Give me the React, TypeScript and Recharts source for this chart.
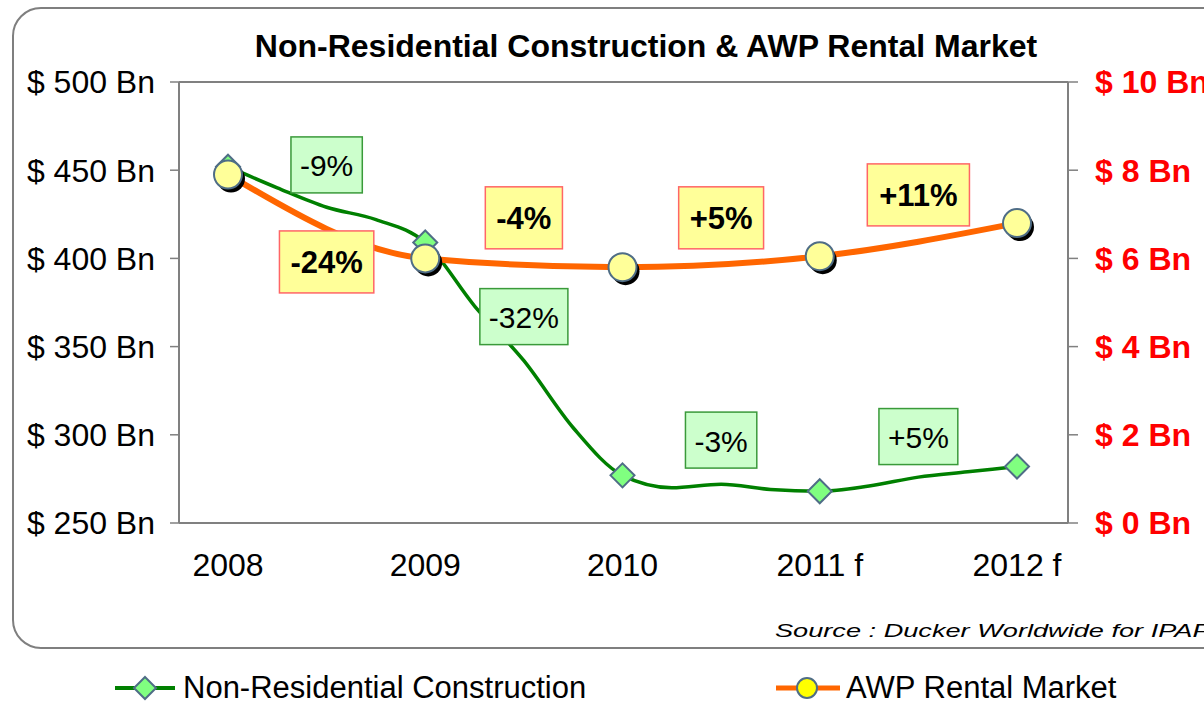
import React from 'react';
import {
  LineChart, Line, XAxis, YAxis, ReferenceDot, ReferenceLine, Legend,
} from 'recharts';

const YEARS = ['2008', '2009', '2010', '2011 f', '2012 f'];

// non-residential construction, read quarterly off the smoothed curve ($ Bn)
const NONRES_X = [0, 0.25, 0.5, 0.75, 1, 1.25, 1.5, 1.75, 2, 2.25, 2.5, 2.75, 3, 3.25, 3.5, 3.75, 4];
const NONRES = [452, 440, 429, 422, 409, 373, 342, 304, 277, 270, 272, 269, 268, 271, 276, 279, 282];

// AWP rental market ($ Bn, right axis)
const AWP = [7.9, 6.0, 5.8, 6.05, 6.8];

const LEFT_TICKS = [250, 300, 350, 400, 450, 500];
const RIGHT_TICKS = [0, 2, 4, 6, 8, 10];

// yearly change call-outs, placed between the years
const NONRES_CHANGES = ['-9%', '-32%', '-3%', '+5%'];
const NONRES_LABEL_Y = [453, 367, 297, 299];
const AWP_CHANGES = ['-24%', '-4%', '+5%', '+11%'];
const AWP_LABEL_Y = [5.92, 6.92, 6.92, 7.44];

const FONT = '"Liberation Sans", Arial, sans-serif';
const GREEN = '#008000';
const ORANGE = '#ff6600';
const MARKER_EDGE = '#4f6d86';

const nonresData = NONRES_X.map((x, i) => ({ x, value: NONRES[i] }));
const awpData = AWP.map((value, i) => ({ x: i, value }));

const CHAR_EM: Record<string, number> = { '%': 0.889, '+': 0.584, '-': 0.333 };
const textEm = (s: string) => s.split('').reduce((a, c) => a + (CHAR_EM[c] ?? 0.556), 0);

const ChangeBox = ({ cx, cy, label, kind }: any) => {
  const green = kind === 'green';
  const fs = green ? 30 : 31;
  const w = textEm(label) * fs + (green ? 18 : 22);
  const h = green ? 56 : 62;
  return (
    <g>
      <rect
        x={cx - w / 2} y={cy - h / 2} width={w} height={h}
        fill={green ? '#ccffcc' : '#ffff99'}
        stroke={green ? '#3a9a3a' : '#ff6666'}
        strokeWidth={1.5}
      />
      <text
        x={cx} y={cy + 1} textAnchor="middle" dominantBaseline="central"
        fontFamily={FONT} fontSize={fs} fontWeight={green ? 400 : 700} fill="#000"
      >
        {label}
      </text>
    </g>
  );
};

const Diamond = ({ cx, cy, r = 12 }: any) => (
  <polygon
    points={`${cx},${cy - r} ${cx + r},${cy} ${cx},${cy + r} ${cx - r},${cy}`}
    fill="#80ff80" stroke={MARKER_EDGE} strokeWidth={2}
  />
);

const renderNonresDot = (props: any) => {
  const { cx, cy, payload, index } = props;
  if (!Number.isInteger(payload.x)) return <g key={`nd-${index}`} />;
  return <Diamond key={`nd-${index}`} cx={cx} cy={cy} />;
};

const renderAwpDot = (props: any) => {
  const { cx, cy, index } = props;
  return (
    <g key={`ad-${index}`}>
      <circle cx={cx + 3} cy={cy + 4} r={14} fill="#000" />
      <circle cx={cx} cy={cy} r={14} fill="#ffff99" stroke={MARKER_EDGE} strokeWidth={2} />
    </g>
  );
};

const LegendContent = () => (
  <div style={{ position: 'relative', width: 1204, height: 30, fontFamily: FONT, fontSize: 31, color: '#000', lineHeight: '30px' }}>
    <svg width={1204} height={30} style={{ position: 'absolute', left: 0, top: 0 }}>
      <line x1={115} y1={15} x2={175} y2={15} stroke={GREEN} strokeWidth={4} />
      <Diamond cx={145} cy={15} r={11} />
      <line x1={776} y1={15} x2={840} y2={15} stroke={ORANGE} strokeWidth={5} />
      <circle cx={807} cy={15} r={10} fill="#ffff00" stroke={MARKER_EDGE} strokeWidth={2} />
    </svg>
    <span style={{ position: 'absolute', left: 183, top: 0, whiteSpace: 'nowrap' }}>Non-Residential Construction</span>
    <span style={{ position: 'absolute', left: 846, top: 0, whiteSpace: 'nowrap' }}>AWP Rental Market</span>
  </div>
);

export default function App() {
  return (
    <div style={{ position: 'absolute', left: 0, top: 0, width: 1204, height: 703, overflow: 'hidden', background: '#fff' }}>
      <svg width={1204} height={703} style={{ position: 'absolute', left: 0, top: 0 }}>
        <rect x={13} y={8} width={1230} height={640} rx={28} fill="none" stroke="#7f7f7f" strokeWidth={2} />
        <text x={646} y={57} textAnchor="middle" fontFamily={FONT} fontSize={32} fontWeight={700}>
          Non-Residential Construction &amp; AWP Rental Market
        </text>
        <text
          x={775} y={637} fontFamily={FONT} fontSize={18} fontStyle="italic"
          textLength={434} lengthAdjust="spacingAndGlyphs"
        >
          Source : Ducker Worldwide for IPAF
        </text>
      </svg>
      <div style={{ position: 'absolute', left: 0, top: 0 }}>
        <LineChart width={1204} height={703} margin={{ top: 82, right: 0, bottom: 120, left: 0 }}>
          <XAxis
            dataKey="x" type="number" domain={[0, 4]} ticks={[0, 1, 2, 3, 4]}
            allowDuplicatedCategory={false}
            padding={{ left: 49, right: 51 }}
            tickFormatter={(v: number) => YEARS[v]}
            tick={{ fill: '#000', fontSize: 32, fontFamily: FONT }}
            axisLine={{ stroke: '#808080', strokeWidth: 2 }}
            tickLine={false} tickSize={0} tickMargin={30} height={60}
          />
          <YAxis
            yAxisId="left" domain={[250, 500]} ticks={LEFT_TICKS} width={179}
            tickFormatter={(v: number) => `$ ${v} Bn`}
            tick={{ fill: '#000', fontSize: 32, fontFamily: FONT }}
            axisLine={{ stroke: '#808080', strokeWidth: 2 }}
            tickLine={{ stroke: '#808080', strokeWidth: 1.5 }}
            tickSize={9} tickMargin={15}
          />
          <YAxis
            yAxisId="right" orientation="right" domain={[0, 10]} ticks={RIGHT_TICKS} width={136}
            tickFormatter={(v: number) => `$ ${v} Bn`}
            tick={{ fill: '#ff0000', fontSize: 32, fontFamily: FONT, fontWeight: 700 }}
            axisLine={{ stroke: '#808080', strokeWidth: 2 }}
            tickLine={{ stroke: '#808080', strokeWidth: 1.5 }}
            tickSize={10} tickMargin={17}
          />
          <ReferenceLine yAxisId="left" y={500} stroke="#808080" strokeWidth={2} />
          <Line
            yAxisId="left" data={nonresData} dataKey="value" name="Non-Residential Construction"
            type="monotone" stroke={GREEN} strokeWidth={3.5}
            dot={renderNonresDot} activeDot={false} isAnimationActive={false}
          />
          <Line
            yAxisId="right" data={awpData} dataKey="value" name="AWP Rental Market"
            type="monotone" stroke={ORANGE} strokeWidth={6}
            dot={renderAwpDot} activeDot={false} isAnimationActive={false}
          />
          {NONRES_CHANGES.map((label, i) => (
            <ReferenceDot
              key={`nc-${i}`} yAxisId="left" x={i + 0.5} y={NONRES_LABEL_Y[i]}
              shape={(p: any) => <ChangeBox cx={p.cx} cy={p.cy} label={label} kind="green" />}
            />
          ))}
          {AWP_CHANGES.map((label, i) => (
            <ReferenceDot
              key={`ac-${i}`} yAxisId="right" x={i + 0.5} y={AWP_LABEL_Y[i]}
              shape={(p: any) => <ChangeBox cx={p.cx} cy={p.cy} label={label} kind="orange" />}
            />
          ))}
          <Legend
            verticalAlign="middle" align="center" layout="horizontal"
            content={<LegendContent />}
            wrapperStyle={{ position: 'absolute', top: 673, left: 0, width: 1204, height: 30 }}
          />
        </LineChart>
      </div>
    </div>
  );
}
